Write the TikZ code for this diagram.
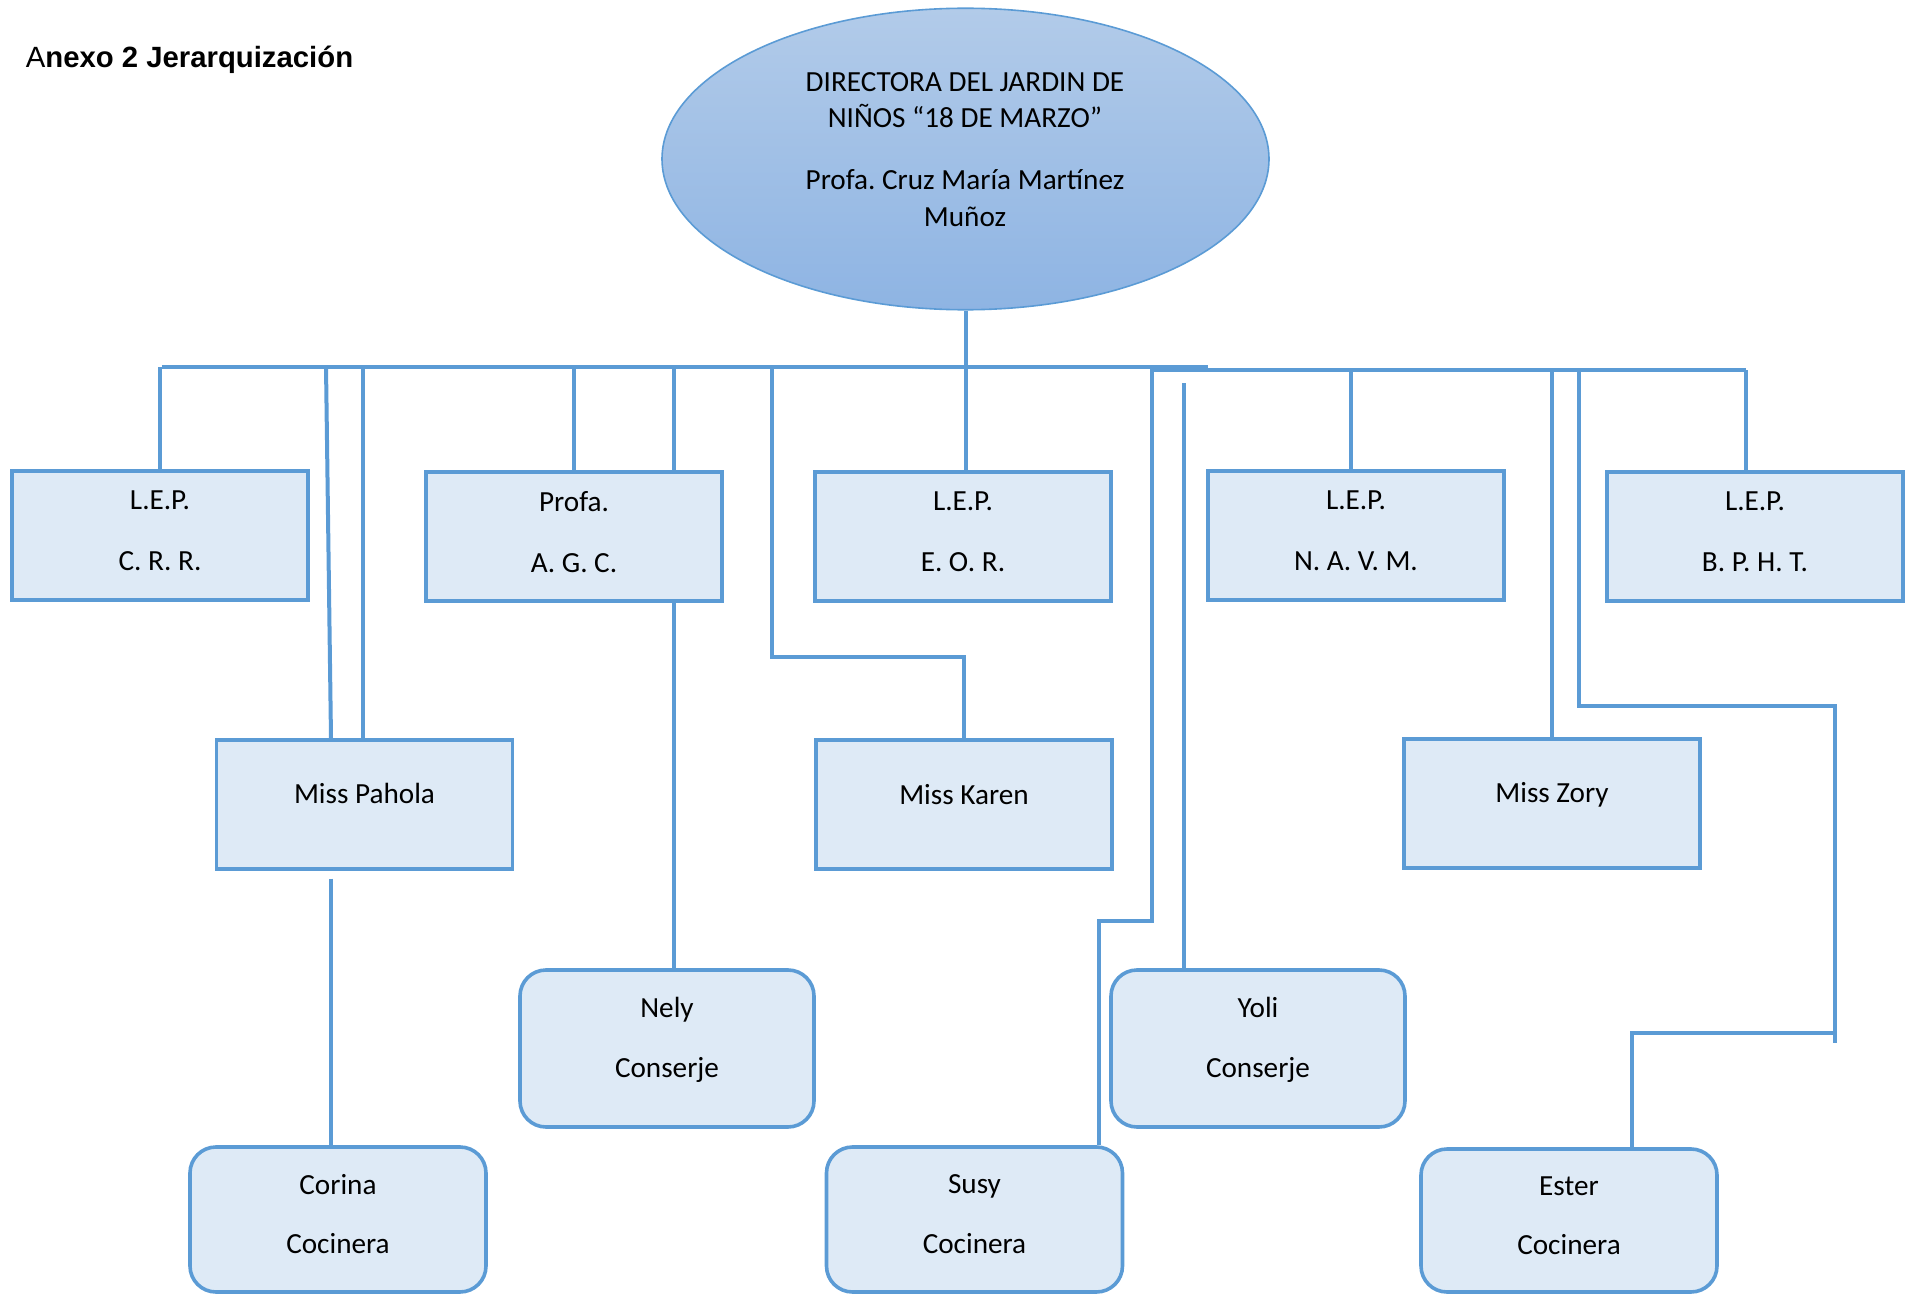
\documentclass[tikz,border=0pt]{standalone}
\usepackage{fontspec}
\setmainfont{Carlito}
\newfontfamily\arialf{Liberation Sans}
\usetikzlibrary{shapes.geometric}
\definecolor{lineblue}{RGB}{91,155,213}
\definecolor{boxfill}{RGB}{222,234,246}
\definecolor{elltop}{RGB}{178,203,233}
\definecolor{ellbot}{RGB}{142,180,227}
\newcommand{\mydepth}[1]{\rule[-#1]{0pt}{0pt}}
\frenchspacing
\begin{document}
\begin{tikzpicture}[x=0.5pt,y=-0.5pt,
  conn/.style={draw=lineblue, line width=2pt},
  boxtext/.style={font=\fontsize{14.6}{18.25}\selectfont},
  sqbox/.style={draw=lineblue, line width=1.8pt, fill=boxfill, minimum width=148pt, minimum height=64.5pt, inner sep=0pt, align=center, boxtext},
  rbox/.style={sqbox, rounded corners=13pt, minimum height=72.5pt},
  tallbox/.style={rbox, minimum width=147pt, minimum height=78.5pt}
]
\useasboundingbox (0,0) rectangle (1908,1295);

% title
\node[anchor=base west, inner sep=0pt, font=\arialf\fontsize{14.65}{17}\selectfont] (title) at (25.5,67.5) {A\textbf{nexo 2 Jerarquización}};

% director
\node[ellipse, draw=lineblue, line width=0.8pt, top color=elltop, bottom color=ellbot, minimum width=303.5pt, minimum height=150.75pt, inner sep=0pt] (dir) at (965.5,159) {};
\node[anchor=north, inner sep=0pt, align=center, boxtext] (dirtext) at (965,72) {DIRECTORA DEL JARDIN DE\\NIÑOS “18 DE MARZO”\\[12.75pt]Profa. Cruz María Martínez\\Muñoz};

% first row
\node[sqbox] (b1) at (160,535.5) {L.E.P.\\[12.25pt]C. R. R.\mydepth{5pt}};
\node[sqbox] (b2) at (574,536.5) {Profa.\\[12.25pt]A. G. C.\mydepth{5pt}};
\node[sqbox] (b3) at (963,536.5) {L.E.P.\\[12.25pt]E. O. R.\mydepth{5pt}};
\node[sqbox] (b4) at (1356,535.5) {L.E.P.\\[12.25pt]N. A. V. M.\mydepth{5pt}};
\node[sqbox] (b5) at (1755,536.5) {L.E.P.\\[12.25pt]B. P. H. T.\mydepth{5pt}};

% second row
\node[sqbox] (pahola) at (364.5,804.5) {Miss Pahola\mydepth{11pt}};
\node[sqbox] (karen) at (964,804.5) {Miss Karen\mydepth{10pt}};
\node[sqbox] (zory) at (1552,803.5) {Miss Zory\mydepth{11pt}};

% third row
\node[tallbox] (nely) at (667,1048.5) {Nely\\[11.5pt]Conserje\mydepth{11pt}};
\node[tallbox] (yoli) at (1258,1048.5) {Yoli\\[11.5pt]Conserje\mydepth{11pt}};

% fourth row
\node[rbox] (corina) at (338,1219.5) {Corina\\[11.5pt]Cocinera\mydepth{5.7pt}};
\node[rbox] (susy) at (974.5,1219.5) {Susy\\[11.5pt]Cocinera\mydepth{5.7pt}};
\node[rbox, minimum height=71.5pt] (ester) at (1569,1220.5) {Ester\\[11.5pt]Cocinera\mydepth{5pt}};

% bus
\coordinate (busA) at (161.8,366.5);
\coordinate (busB) at (1208,366.5);
\coordinate (busC) at (1152,369.5);
\coordinate (busD) at (1746,369.5);
\draw[conn] (busA) -- (busB);
\draw[conn] (busC) -- (busD);

% stems
\draw[conn] (dir.south) -- (dir.south |- b3.north);
\draw[conn] (b1.north) -- (b1.north |- busA);

\coordinate (pah1) at ([xshift=-16.75pt]pahola.north);
\coordinate (pah1t) at (326,366);
\draw[conn] (pah1t) -- (pah1);
\coordinate (pah2) at ([xshift=-1pt]pahola.north);
\draw[conn] (pah2) -- (pah2 |- busA);

\draw[conn] (b2.north) -- (b2.north |- busA);
\coordinate (b2r) at ([xshift=50pt]b2.north);
\draw[conn] (b2r) -- (b2r |- busA);
\coordinate (b2s) at ([xshift=50pt]b2.south);
\draw[conn] (b2s) -- (b2s |- nely.north);

\coordinate (kbend) at (771.5,657);
\draw[conn] (kbend |- busA) -- (kbend) -| (karen.north);

\coordinate (sus) at ([xshift=62.15pt]susy.north);
\coordinate (sbend) at (1152.3,921);
\draw[conn] (sbend |- busA) -- (sbend) -| (sus);

\coordinate (yol) at ([xshift=-37pt]yoli.north);
\coordinate (ytop) at (1184,383);
\draw[conn] (yol |- ytop) -- (yol);

\coordinate (b4n) at ([xshift=-2.7pt]b4.north);
\draw[conn] (b4n) -- (b4n |- busC);
\draw[conn] (zory.north) -- (zory.north |- busD);

\coordinate (e1) at (1579.4,705.7);
\coordinate (e2) at (1835,1042.8);
\draw[conn] (e1 |- busD) -- (e1) -| (e2);
\coordinate (est) at ([xshift=31.35pt]ester.north);
\coordinate (e3) at (1835,1033);
\draw[conn] (est) |- (e3);

\coordinate (b5n) at ([xshift=-4.5pt]b5.north);
\draw[conn] (b5n) -- (b5n |- busD);

\coordinate (cor) at ([xshift=-3.5pt]corina.north);
\coordinate (ctop) at (0,878.5);
\draw[conn] (cor |- ctop) -- (cor);
\end{tikzpicture}
\end{document}
